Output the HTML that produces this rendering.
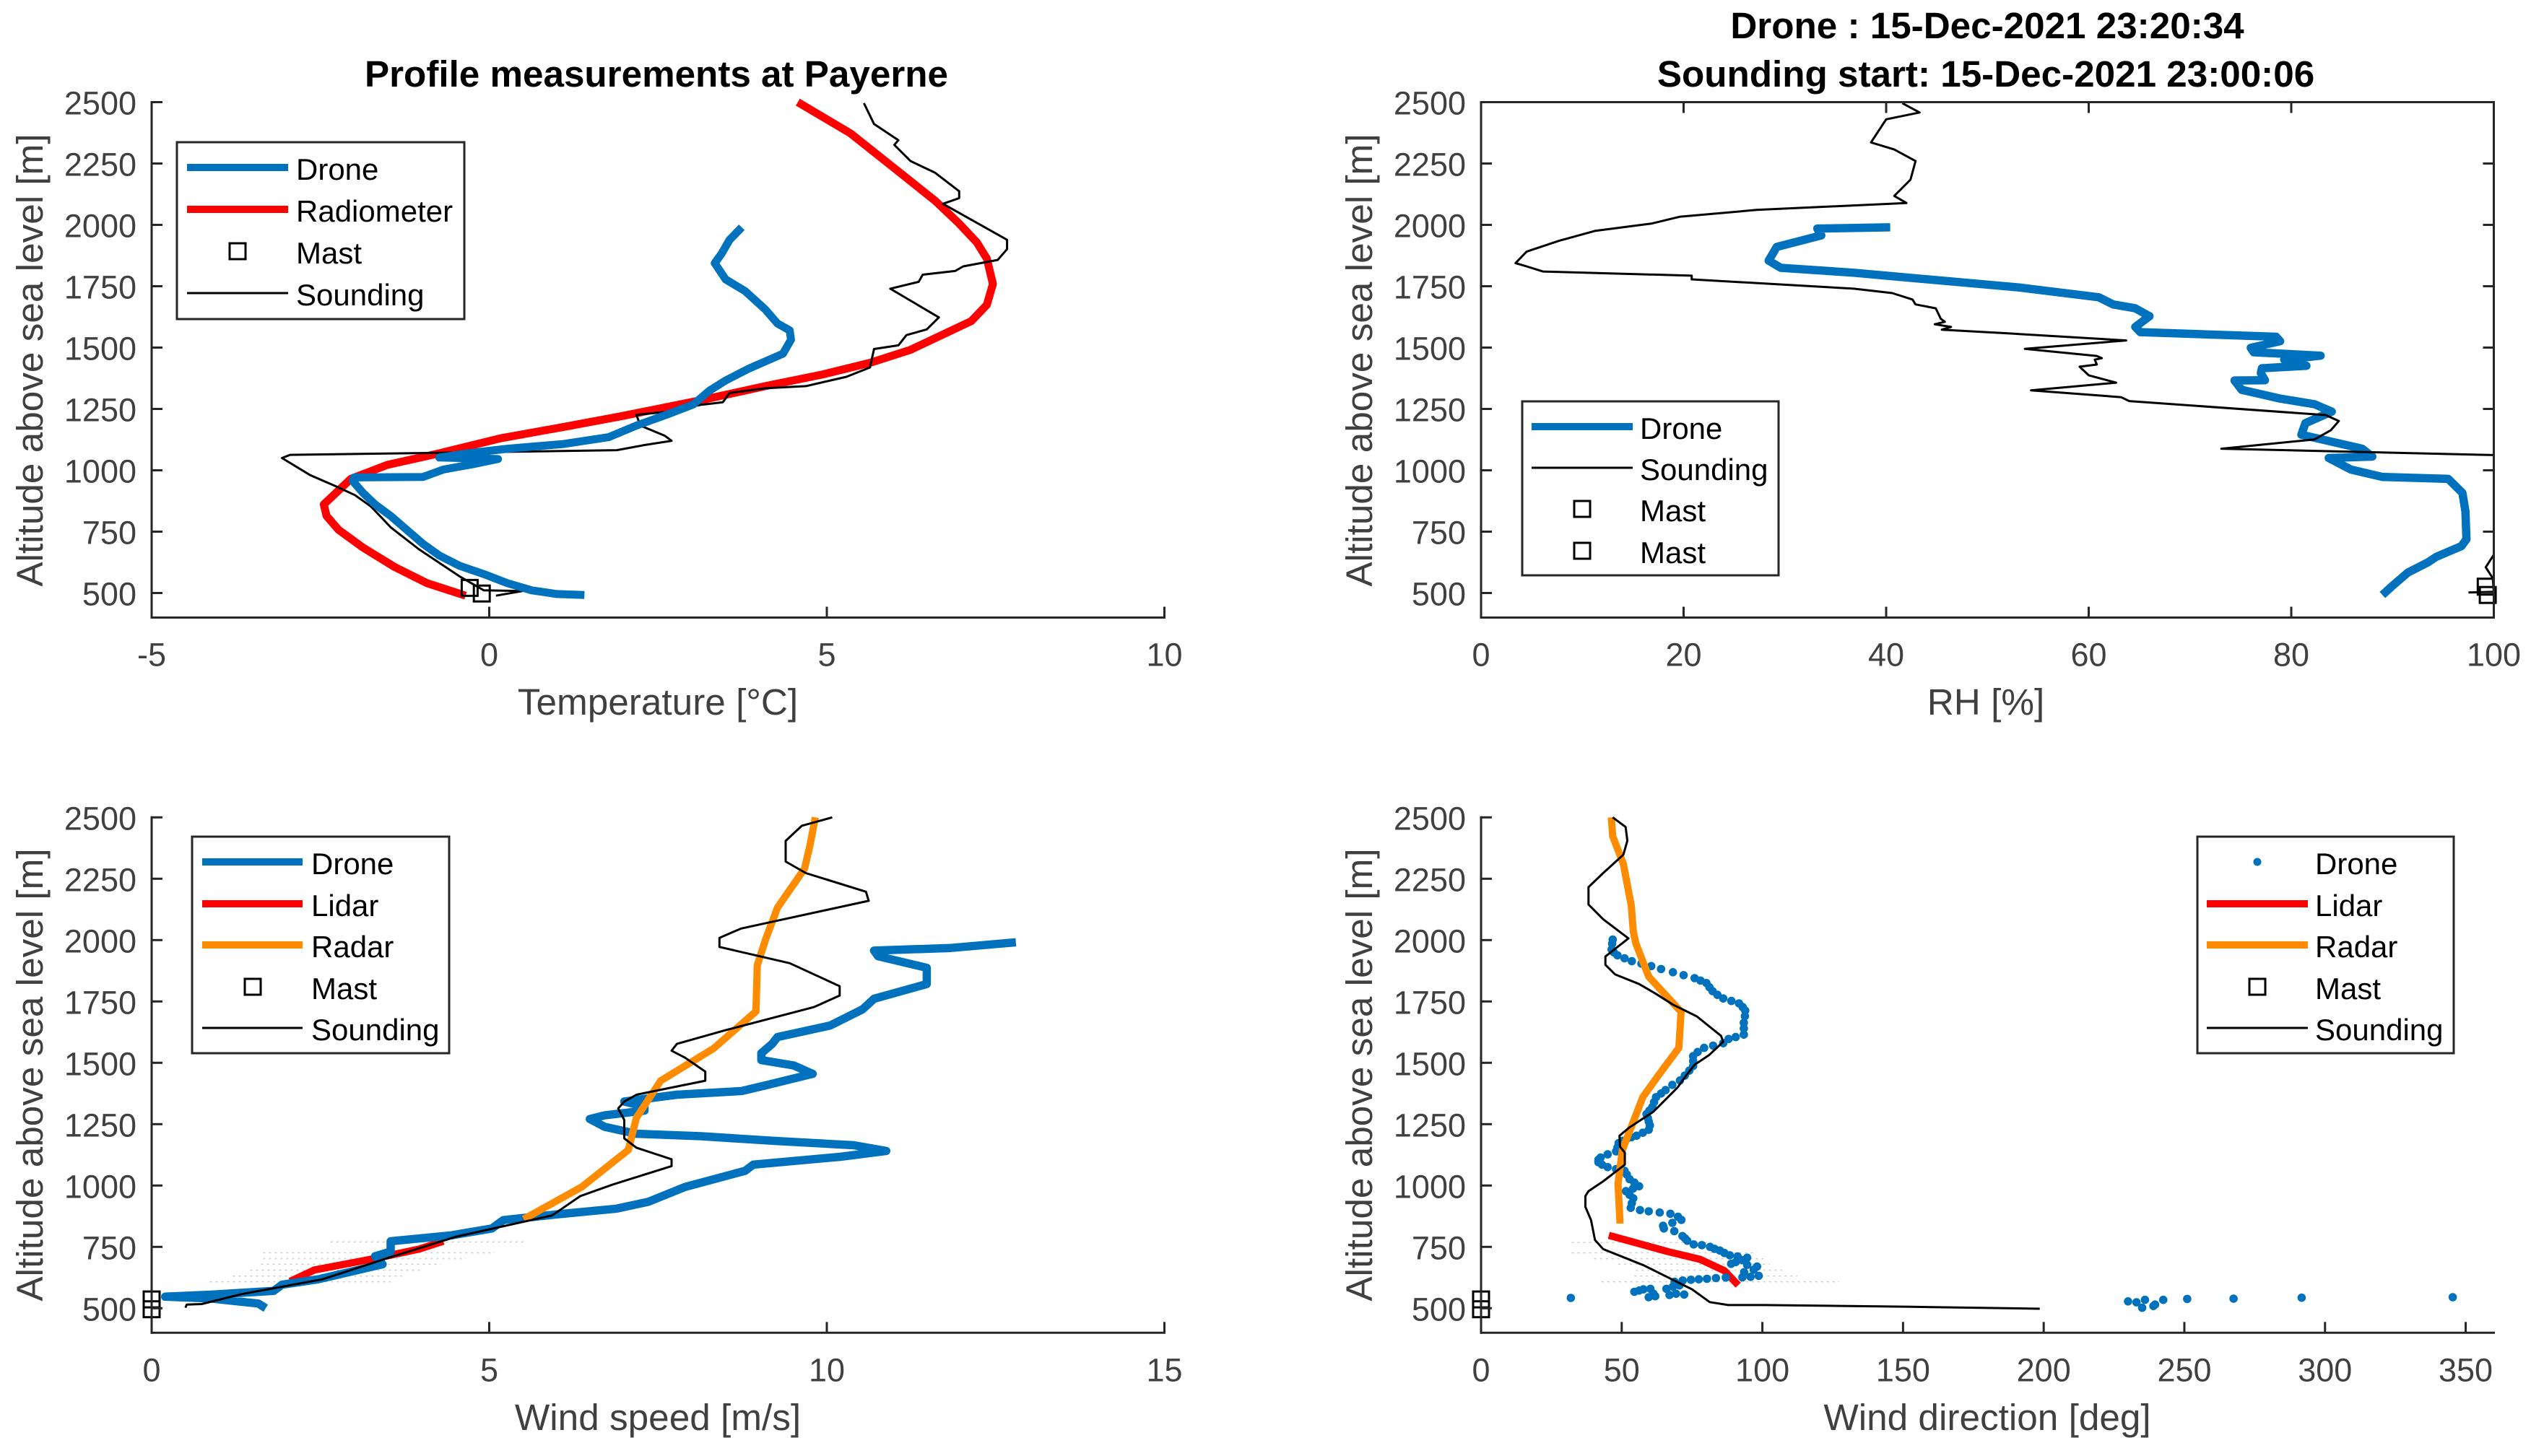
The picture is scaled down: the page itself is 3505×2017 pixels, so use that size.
<!DOCTYPE html>
<html lang="en">
<head>
<meta charset="utf-8">
<title>Profile measurements at Payerne</title>
<style>
html,body{margin:0;padding:0;background:#fff;}
svg{display:block;font-family:"Liberation Sans",Arial,sans-serif;}
.tick{font-size:45px;fill:#404040;}
.lab{font-size:51.3px;fill:#404040;}
.ttl{font-size:51.2px;font-weight:bold;fill:#000;text-anchor:middle;}
.leg{font-size:42px;fill:#000;}
</style>
</head>
<body>
<svg id="fig" xmlns="http://www.w3.org/2000/svg" width="3505" height="2017" viewBox="0 0 3505 2017">
<rect width="3505" height="2017" fill="#fff"/>
<g id="p1"></g>
<g id="p2"></g>
<g id="p3"></g>
<g id="p4"></g>

<text class="ttl" x="909" y="120">Profile measurements at Payerne</text>
<text class="ttl" x="2752" y="53">Drone : 15-Dec-2021 23:20:34</text>
<text class="ttl" x="2750" y="120">Sounding start: 15-Dec-2021 23:00:06</text>

<text class="lab" x="911" y="990" text-anchor="middle">Temperature [°C]</text>
<text class="lab" x="2750" y="990" text-anchor="middle">RH [%]</text>
<text class="lab" x="911" y="1981" text-anchor="middle">Wind speed [m/s]</text>
<text class="lab" x="2752" y="1981" text-anchor="middle">Wind direction [deg]</text>

<text class="lab" transform="translate(59 499) rotate(-90)" text-anchor="middle">Altitude above sea level [m]</text>
<text class="lab" transform="translate(1900 499) rotate(-90)" text-anchor="middle">Altitude above sea level [m]</text>
<text class="lab" transform="translate(59 1489) rotate(-90)" text-anchor="middle">Altitude above sea level [m]</text>
<text class="lab" transform="translate(1900 1489) rotate(-90)" text-anchor="middle">Altitude above sea level [m]</text>

<g id="legends">
  <g>
    <rect x="245" y="197" width="398" height="245" fill="#fff" stroke="#262626" stroke-width="3"/>
    <line x1="259" x2="399" y1="232" y2="232" stroke="#0072BD" stroke-width="10"/>
    <text class="leg" x="410" y="249">Drone</text>
    <line x1="259" x2="399" y1="290" y2="290" stroke="#f00" stroke-width="10"/>
    <text class="leg" x="410" y="307">Radiometer</text>
    <rect x="318" y="337" width="22" height="22" fill="none" stroke="#000" stroke-width="3"/>
    <text class="leg" x="410" y="365">Mast</text>
    <line x1="259" x2="399" y1="406" y2="406" stroke="#000" stroke-width="3"/>
    <text class="leg" x="410" y="423">Sounding</text>
  </g>
  <g>
    <rect x="2108" y="556" width="355" height="241" fill="#fff" stroke="#262626" stroke-width="3"/>
    <line x1="2121" x2="2261" y1="591" y2="591" stroke="#0072BD" stroke-width="10"/>
    <text class="leg" x="2271" y="608">Drone</text>
    <line x1="2121" x2="2261" y1="648" y2="648" stroke="#000" stroke-width="3"/>
    <text class="leg" x="2271" y="665">Sounding</text>
    <rect x="2180" y="694" width="22" height="22" fill="none" stroke="#000" stroke-width="3"/>
    <text class="leg" x="2271" y="722">Mast</text>
    <rect x="2180" y="752" width="22" height="22" fill="none" stroke="#000" stroke-width="3"/>
    <text class="leg" x="2271" y="780">Mast</text>
  </g>
  <g>
    <rect x="266" y="1159" width="356" height="300" fill="#fff" stroke="#262626" stroke-width="3"/>
    <line x1="280" x2="419" y1="1194" y2="1194" stroke="#0072BD" stroke-width="10"/>
    <text class="leg" x="431" y="1211">Drone</text>
    <line x1="280" x2="419" y1="1252" y2="1252" stroke="#f00" stroke-width="10"/>
    <text class="leg" x="431" y="1269">Lidar</text>
    <line x1="280" x2="419" y1="1309" y2="1309" stroke="#FF8C00" stroke-width="10"/>
    <text class="leg" x="431" y="1326">Radar</text>
    <rect x="339" y="1356" width="22" height="22" fill="none" stroke="#000" stroke-width="3"/>
    <text class="leg" x="431" y="1384">Mast</text>
    <line x1="280" x2="419" y1="1424" y2="1424" stroke="#000" stroke-width="3"/>
    <text class="leg" x="431" y="1441">Sounding</text>
  </g>
  <g>
    <rect x="3043" y="1159" width="355" height="300" fill="#fff" stroke="#262626" stroke-width="3"/>
    <circle cx="3126" cy="1194" r="5.5" fill="#0072BD"/>
    <text class="leg" x="3206" y="1211">Drone</text>
    <line x1="3056" x2="3196" y1="1252" y2="1252" stroke="#f00" stroke-width="10"/>
    <text class="leg" x="3206" y="1269">Lidar</text>
    <line x1="3056" x2="3196" y1="1309" y2="1309" stroke="#FF8C00" stroke-width="10"/>
    <text class="leg" x="3206" y="1326">Radar</text>
    <rect x="3115" y="1356" width="22" height="22" fill="none" stroke="#000" stroke-width="3"/>
    <text class="leg" x="3206" y="1384">Mast</text>
    <line x1="3056" x2="3196" y1="1424" y2="1424" stroke="#000" stroke-width="3"/>
    <text class="leg" x="3206" y="1441">Sounding</text>
  </g>
</g>
</svg>

<script>
/* ---------- tick labels ---------- */
const altTicks = [500,750,1000,1250,1500,1750,2000,2250,2500];
const tempTicks = [-5,0,5,10];
const rhTicks = [0,20,40,60,80,100];
const speedTicks = [0,5,10,15];
const dirTicks = [0,50,100,150,200,250,300,350];

/* ---------- temperature panel ---------- */
const tempDroneVal = [1.41,1.0,.63,.27,-.08,-.44,-.74,-.98,-1.22,-1.46,-1.69,-1.87,-2.02,-2.0,-.98,-.68,-.2,.13,-.74,-.32,.27,1.1,1.77,2.18,2.66,3.02,3.26,3.5,3.85,4.35,4.47,4.45,4.27,4.09,3.79,3.5,3.34,3.44,3.56,3.74];
const tempDroneAlt = [492,496,511,540,577,611,653,700,757,814,861,908,956,971,973,1003,1027,1046,1052,1069,1088,1107,1135,1182,1230,1268,1324,1366,1415,1475,1532,1570,1598,1655,1730,1778,1844,1882,1939,1990];
const tempRadioVal = [-.35,-.92,-1.4,-1.87,-2.23,-2.41,-2.45,-2.05,-1.51,-.74,.16,1.11,1.95,3.14,4.09,4.93,5.64,6.24,7.14,7.37,7.46,7.37,7.22,6.96,6.6,6,5.35,4.57];
const tempRadioAlt = [489,540,606,685,757,814,861,965,1022,1069,1130,1177,1220,1286,1343,1390,1438,1491,1608,1674,1759,1863,1929,2005,2099,2231,2373,2500];
const tempSoundVal = [.1,.49,-.08,-.44,-1.04,-1.28,-1.46,-1.75,-1.99,-2.29,-2.65,-3.07,-2.95,-.8,1.89,2.3,2.7,2.6,2.24,2.18,2.66,3.14,3.46,3.56,4.09,4.69,5.29,5.64,5.7,6.06,6.18,6.48,6.66,5.94,6.36,6.42,6.9,7.02,7.53,7.67,7.67,6.72,6.96,6.96,6.6,6.24,6,6.06,5.7,5.55];
const tempSoundAlt = [489,508,511,568,678,729,768,852,899,937,980,1050,1063,1071,1082,1103,1120,1141,1182,1226,1239,1267,1277,1315,1334,1343,1381,1419,1494,1509,1551,1574,1623,1740,1768,1797,1812,1831,1857,1901,1939,2086,2109,2137,2213,2260,2326,2345,2411,2496];
const tempMastVal = [-.29,-.11];
const tempMastAlt = [521,498];

/* ---------- humidity panel ---------- */
const rhDroneVal = [89,89.9,91.5,93.5,94.3,96.8,97.3,97.2,96.9,95.5,89,85.9,83.7,88,87,83,81,81.4,84,82.3,78.8,75.1,74.4,77.4,77,77.1,81.5,79.3,82.9,76.3,76,78.9,78.5,65.1,64.6,66,64.6,62.4,61,53.1,40.6,36.8,29.6,28.4,29.2,33.6,33.2,40.4];
const rhDroneAlt = [492,526,583,625,647,691,719,833,908,965,973,1003,1050,1056,1088,1126,1145,1192,1239,1269,1293,1328,1366,1367,1396,1416,1426,1451,1467,1481,1499,1526,1544,1563,1584,1628,1660,1676,1705,1745,1791,1805,1825,1854,1910,1957,1985,1990];
const rhSoundVal = [97.5,100,99.9,99.2,100,100,100,73.1,82.3,83.9,84.7,83.4,64,63.2,54.3,62.7,60,59.1,60.8,60.6,61.3,60.8,53.7,63.7,52,45.5,46.4,44.8,45.8,45.4,44.9,42.9,42.6,40.6,36.8,20.8,20.8,6.1,4.5,3.4,4.5,7.7,11.3,16.8,19.6,27.2,42,40.8,42.4,42.9,40.8,38.5,40,43.3,41.6];
const rhSoundAlt = [502,505,560,605,656,900,1062,1088,1126,1163,1201,1225,1282,1298,1326,1357,1387,1422,1431,1451,1457,1466,1495,1529,1558,1573,1584,1595,1605,1617,1660,1676,1696,1722,1740,1778,1793,1810,1831,1844,1891,1935,1976,2005,2033,2061,2089,2118,2184,2260,2307,2336,2430,2458,2496];
const rhMastVal = [99.2,99.4];
const rhMastAlt = [526,492];

/* ---------- wind speed panel ---------- */
const spdDroneVal = [1.69,1.58,.86,.2,.86,1.81,1.93,2.47,3.42,3.31,3.54,3.54,4.44,5.04,5.21,5.99,6.89,7.36,7.9,8.79,8.91,10.2,10.88,10.4,9.21,8.14,7.18,6.71,6.49,6.71,7.3,7.3,7,7.78,8.74,9.09,9.79,9.51,9.03,9.03,9.19,9.27,10.05,10.53,10.7,11.48,11.48,10.76,10.7,11.84,12.8];
const spdDroneAlt = [500,519,540,547,555,571,596,618,679,712,731,773,797,825,859,882,906,934,994,1060,1085,1117,1141,1164,1182,1201,1211,1239,1271,1286,1305,1323,1342,1370,1385,1408,1455,1489,1511,1539,1577,1605,1652,1718,1761,1821,1887,1934,1957,1968,1991];
const spdLidarVal = [2.05,2.41,3.31,3.96,4.32];
const spdLidarAlt = [609,656,703,741,773];
const spdRadarVal = [9.83,9.75,9.67,9.27,9.09,8.97,8.95,8.32,7.54,7.18,7.06,6.37,5.51];
const spdRadarAlt = [2500,2385,2291,2132,2000,1897,1709,1558,1427,1276,1145,994,863];
const spdSoundVal = [.5,.52,.74,1.34,2.53,3.48,4.5,5.93,6.35,6.83,7.7,7.7,7.18,7,7,6.91,7,7.18,8.2,8.2,7.9,7.7,7.78,8.5,9.81,10.19,10.19,9.45,8.41,8.41,8.73,10.62,10.58,9.69,9.39,9.39,9.63,10.08];
const spdSoundAlt = [502,515,517,558,618,703,791,878,957,1004,1079,1107,1154,1192,1267,1314,1342,1370,1427,1464,1521,1549,1577,1633,1727,1774,1812,1906,1972,2009,2047,2160,2197,2273,2320,2404,2466,2500];
const spdMastVal = [0,0];
const spdMastAlt = [536,496];
const spdErrAlt = [770,726,702,679,655,631,608];
const spdErrMin = [2.65,1.65,1.65,1.62,1.46,1.2,.86];
const spdErrMax = [5.56,5.08,4.65,4.28,3.97,3.71,3.54];

/* ---------- wind direction panel ---------- */
const dirDroneVal = [46.8,46.6,46.4,47.2,48.5,51,53.6,57,60.5,64,68.2,72,75.9,78,80.1,81.2,82.3,84,86.1,89,91.7,93,93.9,93.8,93.4,93.4,93.4,90.5,88,86.1,82.5,79.3,77,75.4,75.4,75.4,74,72.4,70.7,68,65.6,64,62.2,61.5,60.9,59.8,58.8,59.3,59.6,60,59.6,57.5,55.3,53.5,52,50.3,48.9,48.5,48,45,42.5,41.7,41.7,43,45,48,51,51.8,52.8,54.5,56.2,54,51.5,52.8,54.1,53.6,53.2,56.5,59.6,63.5,67.3,70,71.2,68,64.7,65,68.7,71.6,72.5,73.3,75.6,78.5,81.4,83,84.9,86.5,88.4,91.2,94.6,92.9,90.5,88.9,94.6,98.1,96.9,93.5,98.7,95.8,92.9,87,83.5,80.3,77.4,74.6,71.7,68.8,70.5,68.2,72.2,69.3,67,65.9,61.9,61.3,59.6,60.2,57.7,56.2,54.5,31.9,230,233,236,235,239,239.6,242.5,251,267.5,291.7,345.4];
const dirDroneAlt = [2002,1985,1962,1950,1938,1926,1914,1904,1894,1882,1869,1857,1845,1835,1825,1808,1792,1777,1762,1752,1742,1727,1713,1690,1663,1640,1615,1605,1597,1580,1570,1561,1544,1527,1507,1487,1468,1448,1428,1410,1389,1375,1360,1340,1320,1305,1291,1275,1261,1245,1227,1215,1203,1197,1192,1182,1173,1155,1139,1127,1114,1105,1095,1085,1075,1067,1060,1045,1026,1012,997,987,977,962,948,928,909,900,895,890,885,873,860,848,836,825,814,794,785,775,760,757,750,742,735,725,716,711,706,696,688,681,677,670,657,647,632,628,626,625,623,620,618,616,613,608,593,588,556,559,554,579,549,559,545,579,577,572,567,542,528,524,534,502,509,515,534,538,539,543,545];
const dirLidarVal = [45.4,66.4,77.9,86.5,91.4];
const dirLidarAlt = [797,731,699,653,594];
const dirRadarVal = [46.3,46.8,50.6,53.4,54.1,55,59.6,71.1,70.3,63,57.5,54.5,50.2,48.7,49.4];
const dirRadarAlt = [2500,2423,2310,2141,2036,1987,1851,1708,1561,1448,1360,1271,1144,1007,845];
const dirSoundVal = [198.6,152.6,100.9,87.9,81.3,75,67.8,57.8,43.4,40.5,39.1,37.1,37.1,38.2,43.4,51.1,51.1,49.4,49.2,52.8,61.3,69.9,72.9,75.9,81,86.1,85.3,76.7,68.2,62.2,56.2,47.7,44.2,44.2,52.4,43.4,38.2,38.2,43.4,50.6,52,51.4,46.8];
const dirSoundAlt = [498,506,513,513,525,577,618,675,741,778,859,913,957,977,1017,1085,1134,1158,1203,1237,1301,1400,1448,1492,1531,1586,1610,1689,1737,1781,1821,1860,1899,1933,2007,2085,2145,2216,2273,2348,2405,2461,2500];
const dirMastVal = [0,0];
const dirMastAlt = [536,496];
const dirErrAlt = [768,726,702,679,655,631,608];
const dirErrMin = [32.2,32.2,40.2,48.8,55,54.5,42.8];
const dirErrMax = [81.9,98,100.4,102.6,107,112.4,127.3];

/* ---------- drawing ---------- */
const NS = 'http://www.w3.org/2000/svg';
const AXIS = '#262626';
const BLUE = '#0072BD', RED = '#FF0000', ORANGE = '#FF8C00';

function scale(d0, d1, r0, r1) {
  return function (v) { return r0 + (v - d0) * (r1 - r0) / (d1 - d0); };
}
function mk(parent, tag, attrs) {
  const el = document.createElementNS(NS, tag);
  for (const k in attrs) el.setAttribute(k, attrs[k]);
  parent.appendChild(el);
  return el;
}
function drawLine(g, xs, ys, vals, alts, color, width, name) {
  const pts = vals.map(function (v, i) { return xs(v).toFixed(1) + ',' + ys(alts[i]).toFixed(1); }).join(' ');
  const el = mk(g, 'polyline', {points: pts, fill: 'none', stroke: color, 'stroke-width': width, 'stroke-linejoin': 'round', 'stroke-linecap': 'butt'});
  
  
}
function drawDots(g, xs, ys, vals, alts, color, r, name) {
  vals.forEach(function (v, i) {
    const el = mk(g, 'circle', {cx: xs(v).toFixed(1), cy: ys(alts[i]).toFixed(1), r: r, fill: color});
    
    
  });
}
function drawMast(g, xs, ys, vals, alts, name) {
  vals.forEach(function (v, i) {
    const el = mk(g, 'rect', {x: (xs(v) - 11).toFixed(1), y: (ys(alts[i]) - 11).toFixed(1), width: 22, height: 22, fill: 'none', stroke: '#000', 'stroke-width': 3});
    
    
  });
}
function drawErr(g, xs, ys, mins, maxs, alts, name) {
  alts.forEach(function (a, i) {
    const el = mk(g, 'line', {x1: xs(mins[i]).toFixed(1), x2: xs(maxs[i]).toFixed(1), y1: ys(a).toFixed(1), y2: ys(a).toFixed(1), stroke: '#cfcfcf', 'stroke-width': 1.5, 'stroke-dasharray': '3 5'});
    
    
  });
}
function drawAxes(g, xs, ys, left, right, top, bottom, xTicks, boxed) {
  const tl = 15;
  const seg = function (x1, y1, x2, y2, name) {
    const el = mk(g, 'line', {x1: x1, y1: y1, x2: x2, y2: y2, stroke: AXIS, 'stroke-width': 3});
    
    
  };
  seg(left, top - 1.5, left, bottom + 1.5, 'y-axis-line');
  seg(left - 1.5, bottom, right + 1.5, bottom, 'x-axis-line');
  if (boxed) {
    seg(left - 1.5, top, right + 1.5, top, 'top-axis-line');
    seg(right, top - 1.5, right, bottom + 1.5, 'right-axis-line');
  }
  altTicks.forEach(function (a) {
    const y = ys(a);
    seg(left, y, left + tl, y, 'y-tick');
    if (boxed) seg(right - tl, y, right, y, 'y-tick-right');
    const t = mk(g, 'text', {x: left - 21, y: (y + 17).toFixed(1), 'text-anchor': 'end', 'class': 'tick'});
    
    
    t.textContent = a;
  });
  xTicks.forEach(function (v) {
    const x = xs(v);
    seg(x, bottom, x, bottom - tl, 'x-tick');
    if (boxed) seg(x, top, x, top + tl, 'x-tick-top');
    const t = mk(g, 'text', {x: x.toFixed(1), y: bottom + 67, 'text-anchor': 'middle', 'class': 'tick'});
    
    
    t.textContent = v;
  });
}

const topAlt = scale(400, 2500, 855.5, 141.5);
const botAlt = scale(400, 2500, 1846.3, 1132.3);

/* temperature */
(function () {
  const g = document.getElementById('p1');
  const xs = scale(-5, 10, 210, 1612.5);
  drawLine(g, xs, topAlt, tempRadioVal, tempRadioAlt, RED, 11, 'radiometer-line');
  drawLine(g, xs, topAlt, tempSoundVal, tempSoundAlt, '#000', 3, 'sounding-line');
  drawLine(g, xs, topAlt, tempDroneVal, tempDroneAlt, BLUE, 11, 'drone-line');
  drawMast(g, xs, topAlt, tempMastVal, tempMastAlt, 'mast-marker');
  drawAxes(g, xs, topAlt, 210, 1612.5, 141.5, 855.5, tempTicks, false);
})();

/* humidity */
(function () {
  const g = document.getElementById('p2');
  const xs = scale(0, 100, 2051, 3453.5);
  drawLine(g, xs, topAlt, rhDroneVal, rhDroneAlt, BLUE, 11.5, 'drone-line');
  drawLine(g, xs, topAlt, rhSoundVal, rhSoundAlt, '#000', 3, 'sounding-line');
  drawMast(g, xs, topAlt, rhMastVal, rhMastAlt, 'mast-marker');
  drawAxes(g, xs, topAlt, 2051, 3453.5, 141.5, 855.5, rhTicks, true);
})();

/* wind speed */
(function () {
  const g = document.getElementById('p3');
  const xs = scale(0, 15, 210, 1612.5);
  drawErr(g, xs, botAlt, spdErrMin, spdErrMax, spdErrAlt, 'lidar-spread');
  drawLine(g, xs, botAlt, spdLidarVal, spdLidarAlt, RED, 10, 'lidar-line');
  drawLine(g, xs, botAlt, spdDroneVal, spdDroneAlt, BLUE, 11.5, 'drone-line');
  drawLine(g, xs, botAlt, spdRadarVal, spdRadarAlt, ORANGE, 10, 'radar-line');
  drawLine(g, xs, botAlt, spdSoundVal, spdSoundAlt, '#000', 3, 'sounding-line');
  drawMast(g, xs, botAlt, spdMastVal, spdMastAlt, 'mast-marker');
  drawAxes(g, xs, botAlt, 210, 1612.5, 1132.3, 1846.3, speedTicks, false);
})();

/* wind direction */
(function () {
  const g = document.getElementById('p4');
  const xs = scale(0, 360, 2051, 3453.5);
  drawErr(g, xs, botAlt, dirErrMin, dirErrMax, dirErrAlt, 'lidar-spread');
  drawLine(g, xs, botAlt, dirLidarVal, dirLidarAlt, RED, 10, 'lidar-line');
  drawDots(g, xs, botAlt, dirDroneVal, dirDroneAlt, BLUE, 5.8, 'drone-dot');
  drawLine(g, xs, botAlt, dirRadarVal, dirRadarAlt, ORANGE, 10, 'radar-line');
  drawLine(g, xs, botAlt, dirSoundVal, dirSoundAlt, '#000', 3, 'sounding-line');
  drawMast(g, xs, botAlt, dirMastVal, dirMastAlt, 'mast-marker');
  drawAxes(g, xs, botAlt, 2051, 3453.5, 1132.3, 1846.3, dirTicks, false);
})();
</script>
</body>
</html>
